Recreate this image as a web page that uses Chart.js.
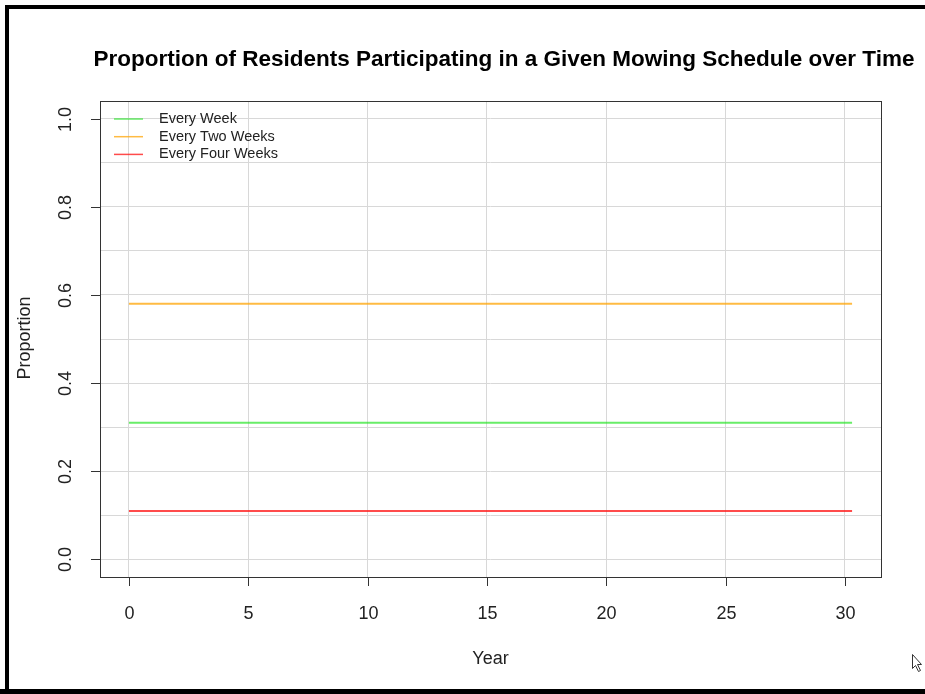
<!DOCTYPE html>
<html>
<head>
<meta charset="utf-8">
<title>Mowing schedule participation</title>
<script src="https://cdn.jsdelivr.net/npm/chart.js@4.4.1/dist/chart.umd.min.js"></script>
<style>
  html, body { margin: 0; padding: 0; background: #fff; }
  canvas { display: block; }
</style>
</head>
<body>
<canvas id="grafico" width="925" height="694"></canvas>
<script>
// Series data
var years = [0, 30.3];
var everyWeek = [0.31, 0.31];
var everyTwoWeeks = [0.58, 0.58];
var everyFourWeeks = [0.11, 0.11];
var seriesNames = ["Every Week", "Every Two Weeks", "Every Four Weeks"];

// Axis ticks
var xTicks = [0, 5, 10, 15, 20, 25, 30];
var yTicks = [0, 0.2, 0.4, 0.6, 0.8, 1.0];
var yGrid = [0, 0.1, 0.2, 0.3, 0.4, 0.5, 0.6, 0.7, 0.8, 0.9, 1.0];

var FONT = "'Liberation Sans', Arial, Helvetica, sans-serif";

function puntos(valores) {
    return years.map(function (x, i) { return { x: x, y: valores[i] }; });
}

// Draws the axis box, ticks, labels, legend and the outer frame
var ejesR = {
    id: "ejesR",
    afterDraw: function (chart) {
        var ctx = chart.ctx;
        var a = chart.chartArea;
        var sx = chart.scales.x;
        var sy = chart.scales.y;
        ctx.save();

        // plot box
        ctx.strokeStyle = "#333";
        ctx.lineWidth = 1;
        ctx.strokeRect(a.left + 0.5, a.top + 0.5, a.right - a.left, a.bottom - a.top);

        // x axis ticks and labels
        ctx.fillStyle = "#222";
        ctx.font = "18px " + FONT;
        ctx.textAlign = "center";
        ctx.textBaseline = "middle";
        xTicks.forEach(function (v) {
            var px = Math.round(sx.getPixelForValue(v)) + 0.5;
            ctx.beginPath();
            ctx.moveTo(px, a.bottom);
            ctx.lineTo(px, a.bottom + 9);
            ctx.stroke();
            ctx.fillText(String(v), px, 614);
        });

        // y axis ticks and rotated labels
        yTicks.forEach(function (v) {
            var py = Math.round(sy.getPixelForValue(v)) + 0.5;
            ctx.beginPath();
            ctx.moveTo(a.left, py);
            ctx.lineTo(a.left - 9, py);
            ctx.stroke();
            ctx.save();
            ctx.translate(66, py);
            ctx.rotate(-Math.PI / 2);
            ctx.fillText(v.toFixed(1), 0, 0);
            ctx.restore();
        });

        // axis titles
        ctx.fillText("Year", (a.left + a.right) / 2, 659);
        ctx.save();
        ctx.translate(25, 338);
        ctx.rotate(-Math.PI / 2);
        ctx.fillText("Proportion", 0, 0);
        ctx.restore();

        // main title
        ctx.font = "bold 22.5px " + FONT;
        ctx.fillStyle = "#000";
        ctx.fillText("Proportion of Residents Participating in a Given Mowing Schedule over Time", 504, 60);

        // legend inside the plot
        ctx.font = "14.5px " + FONT;
        ctx.textAlign = "left";
        chart.data.datasets.forEach(function (ds, i) {
            var y = 119 + i * 17.7;
            ctx.strokeStyle = ds.borderColor;
            ctx.lineWidth = 1.5;
            ctx.beginPath();
            ctx.moveTo(114, y);
            ctx.lineTo(143, y);
            ctx.stroke();
            ctx.fillStyle = "#222";
            ctx.fillText(ds.label, 159, y);
        });

        // outer frame of the figure
        ctx.fillStyle = "#000";
        ctx.fillRect(5, 5, 920, 4);
        ctx.fillRect(5, 5, 4, 689);
        ctx.fillRect(0, 689, 925, 5);

        // mouse pointer
        ctx.fillStyle = "#fff";
        ctx.strokeStyle = "#333";
        ctx.lineWidth = 1;
        ctx.beginPath();
        ctx.moveTo(912.5, 654.5);
        ctx.lineTo(912.5, 668.5);
        ctx.lineTo(915.5, 665.5);
        ctx.lineTo(918.5, 671.5);
        ctx.lineTo(920.5, 670.5);
        ctx.lineTo(917.5, 664.5);
        ctx.lineTo(921.5, 664.5);
        ctx.closePath();
        ctx.fill();
        ctx.stroke();

        ctx.restore();
    }
};

function cargaGrafico() {
    var datos = {
        datasets: [{
            label: seriesNames[0],
            data: puntos(everyWeek),
            borderColor: "rgba(40, 230, 40, 0.7)"
        }, {
            label: seriesNames[1],
            data: puntos(everyTwoWeeks),
            borderColor: "rgba(255, 170, 20, 0.8)"
        }, {
            label: seriesNames[2],
            data: puntos(everyFourWeeks),
            borderColor: "rgba(255, 30, 30, 0.8)"
        }]
    };

    var config = {
        type: "line",
        data: datos,
        options: {
            responsive: false,
            animation: false,
            layout: {
                padding: { left: 100, top: 101, right: 44, bottom: 117 }
            },
            datasets: {
                line: { borderWidth: 2, pointRadius: 0, tension: 0, fill: false }
            },
            plugins: {
                legend: { display: false },
                tooltip: { enabled: false }
            },
            scales: {
                x: {
                    type: "linear",
                    min: -1.212,
                    max: 31.512,
                    border: { display: false },
                    grid: { color: "#d8d8d8", lineWidth: 1, drawTicks: false },
                    ticks: { display: false },
                    afterBuildTicks: function (scale) {
                        scale.ticks = xTicks.map(function (v) { return { value: v }; });
                    },
                    afterFit: function (scale) { scale.height = 0; }
                },
                y: {
                    type: "linear",
                    min: -0.04,
                    max: 1.04,
                    border: { display: false },
                    grid: { color: "#d8d8d8", lineWidth: 1, drawTicks: false },
                    ticks: { display: false },
                    afterBuildTicks: function (scale) {
                        scale.ticks = yGrid.map(function (v) { return { value: v }; });
                    },
                    afterFit: function (scale) { scale.width = 0; }
                }
            }
        },
        plugins: [ejesR]
    };

    var grafico = document.getElementById("grafico").getContext("2d");
    new Chart(grafico, config);
}

cargaGrafico();
</script>
</body>
</html>
